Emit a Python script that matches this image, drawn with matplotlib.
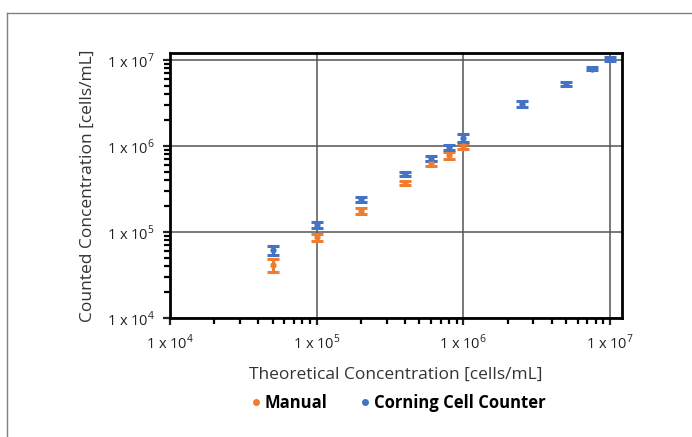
import numpy as np
import matplotlib
matplotlib.use("Agg")
import matplotlib.pyplot as plt
from matplotlib.lines import Line2D
from matplotlib.ticker import LogLocator, FixedLocator, NullFormatter

plt.rcParams['font.family'] = ['Open Sans', 'DejaVu Sans']
plt.rcParams['mathtext.fontset'] = 'custom'
plt.rcParams['mathtext.rm'] = 'Open Sans'

# ── Data ──────────────────────────────────────────────────────────────────────
theoretical = [5e4, 1e5, 2e5, 4e5, 6e5, 8e5, 1e6, 2.5e6, 5e6, 7.5e6, 1e7]

manual_x = [5e4, 1e5, 2e5, 4e5, 6e5, 8e5, 1e6]
manual_y = [4.1e4, 8.7e4, 1.75e5, 3.75e5, 6.3e5, 7.8e5, 1.0e6]
manual_err = [7.0e3, 9.0e3, 1.5e4, 2.0e4, 4.5e4, 6.5e4, 7.0e4]

counter_x = theoretical
counter_y = [6.1e4, 1.2e5, 2.4e5, 4.7e5, 7.2e5, 9.7e5, 1.25e6, 3.05e6, 5.25e6, 7.9e6, 1.03e7]
counter_err = [7.5e3, 9.0e3, 1.8e4, 2.5e4, 5.0e4, 6.0e4, 1.3e5, 2.4e5, 3.0e5, 3.5e5, 6.0e5]

decades = [1e4, 1e5, 1e6, 1e7]
decade_labels = [r'1 x 10$^{4}$', r'1 x 10$^{5}$', r'1 x 10$^{6}$', r'1 x 10$^{7}$']

ORANGE = '#ED7D31'
BLUE = '#4472C4'

fig = plt.figure(figsize=(6.92, 4.37), dpi=100, facecolor='white')

# thin gray frame (top and left edges only)
fig.add_artist(Line2D([7/692, 1], [1 - 13/437, 1 - 13/437], color='#808080', lw=1.0))
fig.add_artist(Line2D([7/692, 7/692], [0, 1 - 13/437], color='#808080', lw=1.0))

ax = fig.add_axes([170/692, 1 - 318/437, 452/692, 265/437])
ax.set_xscale('log')
ax.set_yscale('log')
ax.set_xlim(1e4, 10**7.081)
ax.set_ylim(1e4, 10**7.081)

for x, y, e, c in [(manual_x, manual_y, manual_err, ORANGE),
                   (counter_x, counter_y, counter_err, BLUE)]:
    ax.errorbar(x, y, yerr=e, fmt='o', ms=3.5, color=c, ecolor=c,
                elinewidth=2.2, capsize=4, capthick=2.2, zorder=4)

# gridlines at decades
for d in decades:
    ax.axhline(d, color='#555555', lw=1.1, zorder=1)
    ax.axvline(d, color='#555555', lw=1.1, zorder=1)

ax.xaxis.set_major_locator(FixedLocator(decades))
ax.yaxis.set_major_locator(FixedLocator(decades))
ax.set_xticklabels(decade_labels)
ax.set_yticklabels(decade_labels)
ax.xaxis.set_minor_locator(LogLocator(base=10, subs=np.arange(2, 10), numticks=20))
ax.yaxis.set_minor_locator(LogLocator(base=10, subs=np.arange(2, 10), numticks=20))
ax.xaxis.set_minor_formatter(NullFormatter())
ax.yaxis.set_minor_formatter(NullFormatter())
ax.tick_params(which='both', direction='out', width=1.6, color='black')
ax.tick_params(which='major', length=5, labelsize=10.5, pad=6, colors='#222222')
ax.tick_params(which='minor', length=4)

for s in ax.spines.values():
    s.set_linewidth(2.0)
    s.set_color('black')

ax.set_xlabel('Theoretical Concentration [cells/mL]', fontsize=12.5,
              color='#333333', labelpad=10)
ax.set_ylabel('Counted Concentration [cells/mL]', fontsize=12.5,
              color='#333333', labelpad=8)

handles = [Line2D([], [], marker='o', ls='none', ms=4, color=ORANGE, label='Manual'),
           Line2D([], [], marker='o', ls='none', ms=4, color=BLUE, label='Corning Cell Counter')]
fig.legend(handles=handles, loc='center', bbox_to_anchor=(398/692, 1 - 403/437),
           ncol=2, frameon=False, prop={'weight': 'bold', 'size': 12},
           handlelength=0.6, handletextpad=0.2, columnspacing=2.0)

fig.savefig('out.png', dpi=100, facecolor='white')
